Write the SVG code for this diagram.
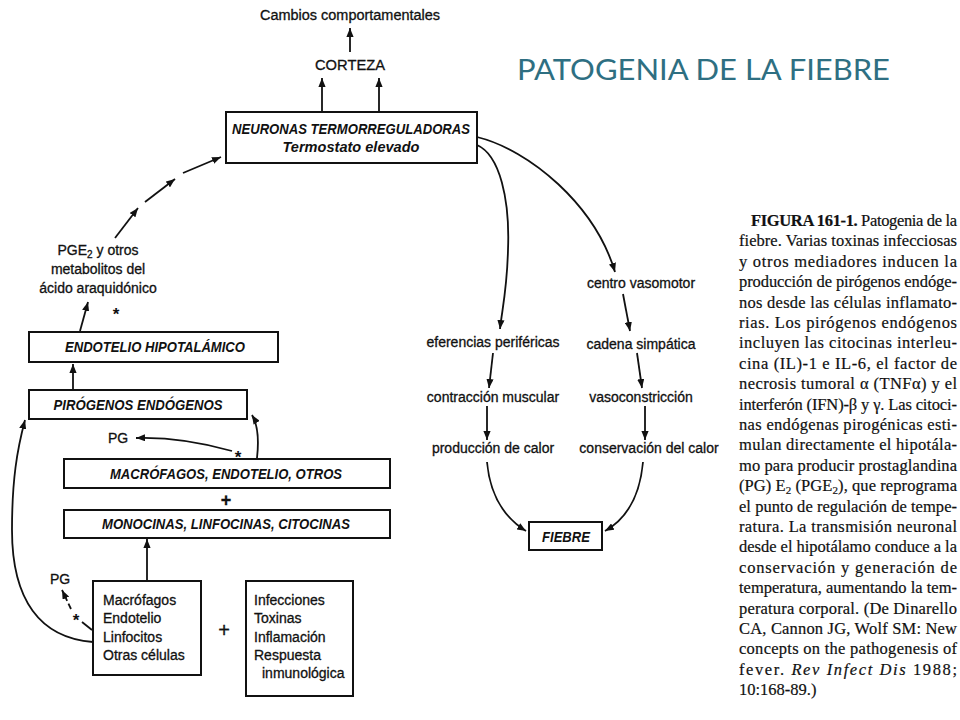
<svg xmlns="http://www.w3.org/2000/svg" width="960" height="720" viewBox="0 0 960 720">
<style>
.t{font-family:"Liberation Sans",Arial,sans-serif;font-size:14px;fill:#111;stroke:#111;stroke-width:0.3}
.b{font-family:"Liberation Sans",Arial,sans-serif;font-size:14px;font-weight:bold;font-style:italic;fill:#111}
.ast{font-family:"Liberation Sans",Arial,sans-serif;font-size:17px;font-weight:bold;fill:#111}
.box{fill:#fff;stroke:#111;stroke-width:2}
.ln{fill:none;stroke:#111;stroke-width:1.8}
.cap{font-family:"Liberation Serif","Times New Roman",serif;font-size:16.5px;fill:#111;stroke:#111;stroke-width:0.2}
.title{font-family:Lato,"Open Sans",sans-serif;font-size:29px;fill:#2e6f82}
</style>
<defs>
<marker id="ah" viewBox="0 0 10 8" refX="10" refY="4" markerWidth="9" markerHeight="7.2" markerUnits="userSpaceOnUse" orient="auto"><path d="M0,0 L10,4 L0,8 z" fill="#111"/></marker>
</defs>
<rect width="960" height="720" fill="#fff"/>

<text class="title" x="517" y="80" textLength="373" lengthAdjust="spacingAndGlyphs">PATOGENIA DE LA FIEBRE</text>

<g id="cambios"><text class="t" x="350" y="20" text-anchor="middle" textLength="180" lengthAdjust="spacingAndGlyphs">Cambios comportamentales</text></g>
<g id="corteza"><text class="t" x="350" y="70" text-anchor="middle" style="font-size:14.5px" textLength="70" lengthAdjust="spacingAndGlyphs">CORTEZA</text></g>

<g id="neuronas">
<rect class="box" x="226" y="112" width="251" height="51"/>
<text class="b" x="351" y="134" text-anchor="middle" textLength="238" lengthAdjust="spacingAndGlyphs">NEURONAS TERMORREGULADORAS</text>
<text class="b" x="351" y="152" text-anchor="middle" textLength="137" lengthAdjust="spacingAndGlyphs">Termostato elevado</text>
</g>

<g id="pge2">
<text class="t" x="98" y="255" text-anchor="middle">PGE<tspan dy="3" font-size="10">2</tspan><tspan dy="-3"> y otros</tspan></text>
<text class="t" x="98" y="274" text-anchor="middle">metabolitos del</text>
<text class="t" x="98" y="293" text-anchor="middle">ácido araquidónico</text>
</g>

<g id="endotelio">
<rect class="box" x="29" y="332" width="249" height="30"/>
<text class="b" x="155" y="352" text-anchor="middle" textLength="180" lengthAdjust="spacingAndGlyphs">ENDOTELIO HIPOTALÁMICO</text>
</g>

<g id="pirogenos">
<rect class="box" x="29" y="390" width="218" height="29"/>
<text class="b" x="138" y="410" text-anchor="middle" textLength="169" lengthAdjust="spacingAndGlyphs">PIRÓGENOS ENDÓGENOS</text>
</g>

<g id="pg1"><text class="t" x="118" y="443" text-anchor="middle">PG</text></g>

<g id="macrofagos-endotelio">
<rect class="box" x="64" y="459" width="326" height="29"/>
<text class="b" x="226" y="479" text-anchor="middle" textLength="232" lengthAdjust="spacingAndGlyphs">MACRÓFAGOS, ENDOTELIO, OTROS</text>
</g>
<text class="t" x="226" y="506" text-anchor="middle" style="font-size:18px;font-weight:bold">+</text>

<g id="monocinas">
<rect class="box" x="64" y="510" width="326" height="28"/>
<text class="b" x="226" y="529" text-anchor="middle" textLength="248" lengthAdjust="spacingAndGlyphs">MONOCINAS, LINFOCINAS, CITOCINAS</text>
</g>

<g id="pg2"><text class="t" x="60" y="584" text-anchor="middle">PG</text></g>

<g id="celulas">
<rect class="box" x="93" y="581" width="108" height="94"/>
<text class="t" x="103" y="605">Macrófagos</text>
<text class="t" x="103" y="623">Endotelio</text>
<text class="t" x="103" y="642">Linfocitos</text>
<text class="t" x="103" y="660">Otras células</text>
</g>
<text class="t" x="224" y="637" text-anchor="middle" style="font-size:20px">+</text>

<g id="estimulos">
<rect class="box" x="246" y="581" width="107" height="115"/>
<text class="t" x="254" y="605">Infecciones</text>
<text class="t" x="254" y="623">Toxinas</text>
<text class="t" x="254" y="642">Inflamación</text>
<text class="t" x="254" y="660">Respuesta</text>
<text class="t" x="262" y="678">inmunológica</text>
</g>

<g id="vasomotor"><text class="t" x="641" y="288" text-anchor="middle">centro vasomotor</text></g>
<g id="eferencias"><text class="t" x="493" y="347" text-anchor="middle">eferencias periféricas</text></g>
<g id="simpatica"><text class="t" x="641" y="349" text-anchor="middle">cadena simpática</text></g>
<g id="contraccion"><text class="t" x="493" y="402" text-anchor="middle">contracción muscular</text></g>
<g id="vasoconstriccion"><text class="t" x="641" y="402" text-anchor="middle">vasoconstricción</text></g>
<g id="produccion"><text class="t" x="493" y="453" text-anchor="middle">producción de calor</text></g>
<g id="conservacion"><text class="t" x="649" y="453" text-anchor="middle">conservación del calor</text></g>

<g id="fiebre">
<rect class="box" x="529" y="522" width="73" height="28"/>
<text class="b" x="566" y="542" text-anchor="middle" textLength="48" lengthAdjust="spacingAndGlyphs">FIEBRE</text>
</g>

<g id="asteriscos">
<text class="ast" x="116" y="320" text-anchor="middle">*</text>
<text class="ast" x="238" y="463" text-anchor="middle">*</text>
<text class="ast" x="76" y="626" text-anchor="middle">*</text>
</g>

<g id="connectors">
<path class="ln" d="M350,52 L350,28" marker-end="url(#ah)"/>
<path class="ln" d="M322,112 L322,78" marker-end="url(#ah)"/>
<path class="ln" d="M379,112 L379,78" marker-end="url(#ah)"/>
<path class="ln" d="M115,238 L138,208" marker-end="url(#ah)"/>
<path class="ln" d="M145,202 L175,179" marker-end="url(#ah)"/>
<path class="ln" d="M183,173 L221,157" marker-end="url(#ah)"/>
<path class="ln" d="M80,331 L88,302" marker-end="url(#ah)"/>
<path class="ln" d="M73,390 L73,364" marker-end="url(#ah)"/>
<path class="ln" d="M232,451 C200,442 170,437 136,438" marker-end="url(#ah)"/>
<path class="ln" d="M257,458 C259,440 258,425 252,415" marker-end="url(#ah)"/>
<path class="ln" d="M147,581 L147,539" marker-end="url(#ah)"/>
<path class="ln" d="M93,642 C40,638 12,600 12,530 C12,480 17,450 25,420" marker-end="url(#ah)"/>
<path class="ln" d="M92,630 L82,622"/>
<path class="ln" d="M71,609 L62,590" stroke-dasharray="6,3" marker-end="url(#ah)"/>
<path class="ln" d="M477,137 C530,150 595,205 615,272" marker-end="url(#ah)"/>
<path class="ln" d="M477,145 C500,155 510,200 508,250 C507,290 502,310 500,329" marker-end="url(#ah)"/>
<path class="ln" d="M623,294 L630,331" marker-end="url(#ah)"/>
<path class="ln" d="M493,353 L489,388" marker-end="url(#ah)"/>
<path class="ln" d="M637,353 L642,388" marker-end="url(#ah)"/>
<path class="ln" d="M487,406 L487,440" marker-end="url(#ah)"/>
<path class="ln" d="M645,406 L645,440" marker-end="url(#ah)"/>
<path class="ln" d="M487,462 C490,495 505,518 526,531" marker-end="url(#ah)"/>
<path class="ln" d="M643,462 C640,495 628,518 605,531" marker-end="url(#ah)"/>
</g>

<g id="caption">
<text class="cap" x="751" y="226" textLength="206" lengthAdjust="spacing"><tspan font-weight="bold">FIGURA 161-1.</tspan> Patogenia de la</text>
<text class="cap" x="739" y="246.4" textLength="218" lengthAdjust="spacing">fiebre. Varias toxinas infecciosas</text>
<text class="cap" x="739" y="266.8" textLength="218" lengthAdjust="spacing">y otros mediadores inducen la</text>
<text class="cap" x="739" y="287.2" textLength="218" lengthAdjust="spacing">producción de pirógenos endóge-</text>
<text class="cap" x="739" y="307.6" textLength="218" lengthAdjust="spacing">nos desde las células inflamato-</text>
<text class="cap" x="739" y="328" textLength="218" lengthAdjust="spacing">rias. Los pirógenos endógenos</text>
<text class="cap" x="739" y="348.4" textLength="218" lengthAdjust="spacing">incluyen las citocinas interleu-</text>
<text class="cap" x="739" y="368.8" textLength="218" lengthAdjust="spacing">cina (IL)-1 e IL-6, el factor de</text>
<text class="cap" x="739" y="389.2" textLength="218" lengthAdjust="spacing">necrosis tumoral α (TNFα) y el</text>
<text class="cap" x="739" y="409.6" textLength="218" lengthAdjust="spacing">interferón (IFN)-β y γ. Las citoci-</text>
<text class="cap" x="739" y="430" textLength="218" lengthAdjust="spacing">nas endógenas pirogénicas esti-</text>
<text class="cap" x="739" y="450.4" textLength="218" lengthAdjust="spacing">mulan directamente el hipotála-</text>
<text class="cap" x="739" y="470.8" textLength="218" lengthAdjust="spacing">mo para producir prostaglandina</text>
<text class="cap" x="739" y="491.2" textLength="218" lengthAdjust="spacing">(PG) E<tspan dy="3" font-size="11">2</tspan><tspan dy="-3"> (PGE</tspan><tspan dy="3" font-size="11">2</tspan><tspan dy="-3">), que reprograma</tspan></text>
<text class="cap" x="739" y="511.6" textLength="218" lengthAdjust="spacing">el punto de regulación de tempe-</text>
<text class="cap" x="739" y="532" textLength="218" lengthAdjust="spacing">ratura. La transmisión neuronal</text>
<text class="cap" x="739" y="552.4" textLength="218" lengthAdjust="spacing">desde el hipotálamo conduce a la</text>
<text class="cap" x="739" y="572.8" textLength="218" lengthAdjust="spacing">conservación y generación de</text>
<text class="cap" x="739" y="593.2" textLength="218" lengthAdjust="spacing">temperatura, aumentando la tem-</text>
<text class="cap" x="739" y="613.6" textLength="218" lengthAdjust="spacing">peratura corporal. (De Dinarello</text>
<text class="cap" x="739" y="634" textLength="218" lengthAdjust="spacing">CA, Cannon JG, Wolf SM: New</text>
<text class="cap" x="739" y="654.4" textLength="218" lengthAdjust="spacing">concepts on the pathogenesis of</text>
<text class="cap" x="739" y="674.8" textLength="218" lengthAdjust="spacing">fever. <tspan font-style="italic">Rev Infect Dis</tspan> 1988;</text>
<text class="cap" x="739" y="695.2">10:168-89.)</text>
</g>
</svg>
